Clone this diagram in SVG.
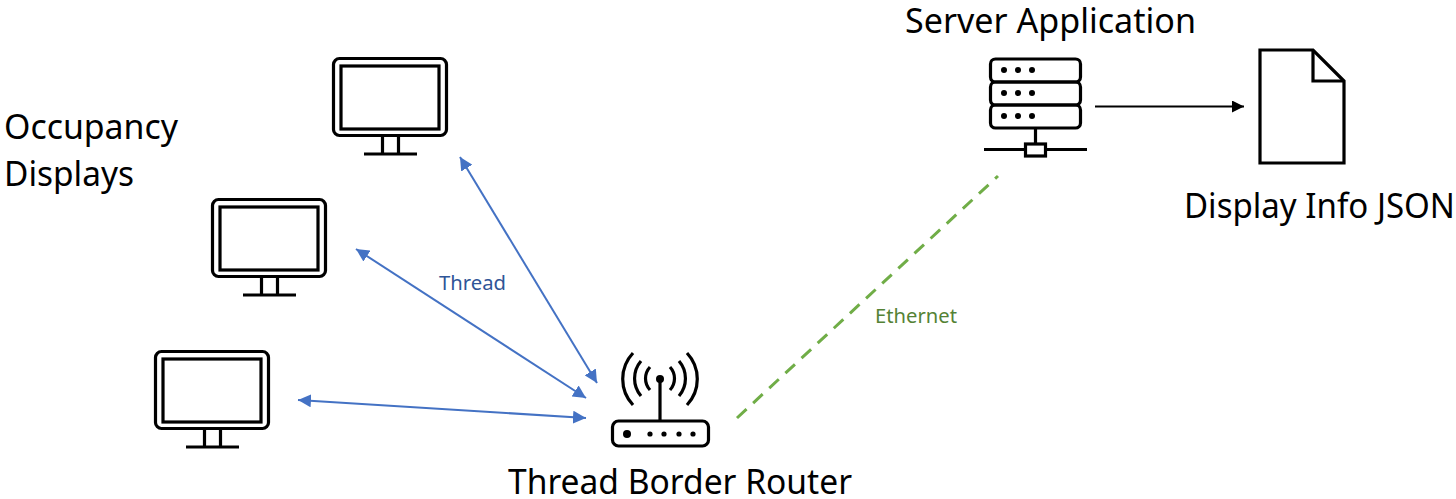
<svg xmlns="http://www.w3.org/2000/svg" width="1456" height="499" viewBox="0 0 1456 499">
<style>
text{font-family:"Noto Sans","Open Sans","Liberation Sans",sans-serif}
.big{font-size:34px;fill:#000}
.small{font-size:20px}
.ic{fill:none;stroke:#000;stroke-width:3.2}
.thread{stroke:#4472c4;stroke-width:2;fill:none;marker-start:url(#ms);marker-end:url(#me)}
</style>
<defs>
<marker id="me" viewBox="0 0 10 10" refX="10" refY="5" markerWidth="6.500" markerHeight="6.500" orient="auto"><path d="M0 0L10 5L0 10Z" fill="#4472c4"/></marker>
<marker id="ms" viewBox="0 0 10 10" refX="0" refY="5" markerWidth="6.500" markerHeight="6.500" orient="auto"><path d="M10 0L0 5L10 10Z" fill="#4472c4"/></marker>
<marker id="mk" viewBox="0 0 10 10" refX="10" refY="5" markerWidth="6" markerHeight="6" orient="auto"><path d="M0 0L10 5L0 10Z" fill="#000"/></marker>
<g id="mon">
<rect x="1.500" y="1.500" width="113" height="77" rx="6" class="ic"/>
<rect x="9" y="9" width="98" height="63" class="ic"/>
<path d="M50.500 79V97M66.500 79V97M32 97H85" class="ic"/>
</g>
</defs>
<g id="connectors">
<path class="thread" d="M460 157L597 383"/>
<path class="thread" d="M356 249L586 398"/>
<path class="thread" d="M298 400L586 418"/>
<path d="M1095 106.500H1244" stroke="#000" stroke-width="2" fill="none" marker-end="url(#mk)"/>
<path d="M737 418L998 176" stroke="#70ad47" stroke-width="3" stroke-dasharray="13 9" fill="none"/>
</g>
<g id="display1"><use href="#mon" x="332" y="57"/></g>
<g id="display2"><use href="#mon" x="211" y="198"/></g>
<g id="display3"><use href="#mon" x="154" y="350"/></g>
<g id="router" class="ic">
<rect x="612.500" y="421" width="96" height="25" rx="6"/>
<path d="M660 381V421"/>
<circle cx="660" cy="379" r="4" fill="#000" stroke="none"/>
<path d="M650 367A17 17 0 0 0 650 390M670 367A17 17 0 0 1 670 390M641 361A27 27 0 0 0 641 396M679 361A27 27 0 0 1 679 396M633 353A38 38 0 0 0 633 405M687 353A38 38 0 0 1 687 405"/>
<g fill="#000" stroke="none"><circle cx="627" cy="434" r="4"/><circle cx="650" cy="434" r="2.600"/><circle cx="664" cy="434" r="2.600"/><circle cx="679" cy="434" r="2.600"/><circle cx="693" cy="434" r="2.600"/></g>
</g>
<g id="server" class="ic">
<rect x="990.500" y="59" width="90" height="23" rx="5"/>
<rect x="990.500" y="82" width="90" height="23" rx="5"/>
<rect x="990.500" y="105" width="90" height="23" rx="5"/>
<path d="M1035.500 128V145M984 149.500H1025M1046 149.500H1087"/>
<rect x="1025.500" y="144" width="20" height="12"/>
<g fill="#000" stroke="none"><circle cx="1004" cy="70" r="3"/><circle cx="1018" cy="70" r="3"/><circle cx="1032" cy="70" r="3"/><circle cx="1004" cy="93" r="3"/><circle cx="1018" cy="93" r="3"/><circle cx="1032" cy="93" r="3"/><circle cx="1004" cy="116" r="3"/><circle cx="1018" cy="116" r="3"/><circle cx="1032" cy="116" r="3"/></g>
</g>
<g id="file" class="ic">
<path d="M1260 50H1313L1344 81V163H1260Z"/>
<path d="M1313 50V81H1344"/>
</g>
<g id="labels">
<text class="big" x="4" y="139" textLength="174" lengthAdjust="spacingAndGlyphs">Occupancy</text>
<text class="big" x="4" y="186" textLength="130" lengthAdjust="spacingAndGlyphs">Displays</text>
<text class="big" x="905" y="33" textLength="291" lengthAdjust="spacingAndGlyphs">Server Application</text>
<text class="big" x="1184" y="218" textLength="271" lengthAdjust="spacingAndGlyphs">Display Info JSON</text>
<text class="big" x="508" y="494" textLength="344" lengthAdjust="spacingAndGlyphs">Thread Border Router</text>
<text class="small" x="439" y="290" fill="#2f5597" textLength="67" lengthAdjust="spacingAndGlyphs">Thread</text>
<text class="small" x="875" y="323" fill="#548235" textLength="82" lengthAdjust="spacingAndGlyphs">Ethernet</text>
</g>
</svg>
